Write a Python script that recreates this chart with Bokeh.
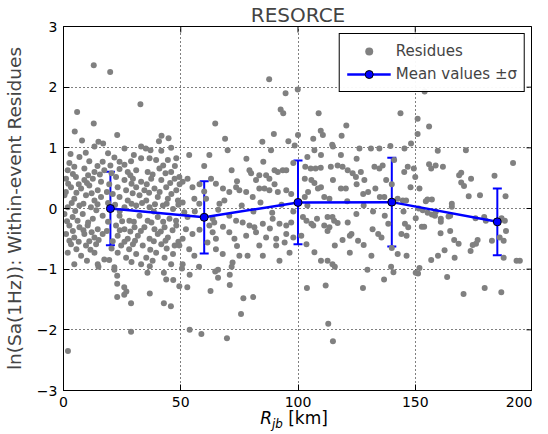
import math
from bokeh.plotting import figure
from bokeh.models import (ColumnDataSource, Whisker, TeeHead, Legend, LegendItem,
                          FixedTicker, Div)
from bokeh.layouts import column
from bokeh.embed import file_html
from bokeh.resources import INLINE

# ---- data -------------------------------------------------------------
res_dist = [
    12.9, 19.9, 32.8, 5.8, 12.9, 4.8, 7.9, 22.9, 14.9, 16.9, 41.8, 40.7, 44.8, 35.1,
    87.7, 94.7, 92.6, 93.7, 64.7, 68.9, 89.7, 84.8, 95.9, 98.6, 99.9, 100.0,
    108.8, 143.7, 120.6, 109.7, 110.6, 106.5, 118.6, 114.6, 148.2, 139.4,
    154.0, 151.0, 155.9, 151.0,
    22.9, 21.7, 22.9, 25.9, 26.8, 25.9, 22.9, 28.8, 36.8, 35.8, 42.8, 43.8, 46.8,
    42.8, 45.8, 28.8, 1.9, 49.4, 36.8, 14.9,
    53.8, 52.8, 62.7, 64.7, 65.9, 65.9, 70.9, 70.9, 76.7, 80.9, 75.7, 53.8, 58.8,
    69.7, 57.8, 71.7, 50.5,
    103.8, 111.8, 127.7, 136.7, 140.7, 129.6, 115.7, 139.7, 112.9, 114.9, 150.2,
    151.2, 163.6, 170.6, 179.6, 186.7,
    13.2, 26.0, 33.1, 37.1, 41.7, 45.9, 6.8, 4.6, 11.0, 16.7, 21.7, 23.9, 28.8, 33.1,
    36.7, 39.5, 44.5, 48.1, 1.8, 8.9, 13.2, 17.4, 23.9, 27.4, 31.0, 35.9, 40.9, 45.9,
    1.1, 5.3, 8.9, 12.5, 16.0, 22.4, 26.0, 29.6, 33.1, 37.4, 41.7, 47.4,
    3.2, 7.5, 11.0, 14.6, 23.1, 26.7, 31.0, 34.5, 38.8, 43.8, 48.1,
    0.4, 4.6, 9.6, 13.2, 16.0, 23.9, 27.4, 32.4, 35.3, 40.2, 44.5, 48.8,
    1.8, 6.8, 11.7, 26.0, 31.0, 36.7, 42.4, 46.7,
    0.4, 3.9, 8.2, 12.5, 16.7, 23.9, 28.1, 32.4, 35.9, 40.2, 45.2,
    2.5, 6.8, 10.3, 14.6, 22.4, 26.0, 30.3, 34.5, 38.8, 43.1, 48.1,
    1.1, 4.6, 8.9, 13.2, 16.7, 23.1, 27.4, 31.7, 36.7, 40.2, 44.5,
    3.2, 9.6, 13.9, 24.6, 29.6, 33.8, 41.7, 47.4,
    1.8, 7.5, 13.2, 17.4, 23.1, 26.7, 31.0, 35.3, 39.5, 43.1, 46.7,
    4.6, 14.6, 21.7, 33.1, 45.9,
    53.6, 62.2, 70.0, 88.5, 85.2, 71.7, 79.3, 80.0, 82.1, 83.5, 86.4, 87.8, 90.0,
    91.4, 93.5, 95.0, 49.4, 50.8, 52.9, 55.0, 62.9, 65.0, 68.0, 70.7, 73.6, 75.0,
    77.9, 80.7, 83.5, 85.7, 87.8, 91.4, 95.0, 97.1, 55.8, 57.9, 60.8, 66.5, 68.6,
    50.8, 51.5, 52.9, 63.6, 64.3, 62.2, 70.7, 73.6, 76.4, 79.3, 81.4, 85.0, 89.2,
    92.1, 95.0, 97.1, 52.2, 55.0, 50.8, 63.6, 65.0, 61.4, 70.7, 72.9, 77.9, 82.1,
    86.4, 90.7, 95.0, 83.5, 90.7, 94.3, 49.4, 53.6, 55.8, 65.0, 67.9, 75.0, 78.5,
    85.0, 92.1, 96.4, 50.8, 72.1,
    107.0, 109.8, 114.9, 118.3, 126.2, 131.1, 134.7, 145.4, 103.1, 105.4, 107.5,
    109.7, 114.0, 116.9, 119.0, 121.2, 123.3, 124.7, 126.8, 132.6, 134.7, 136.1,
    128.3, 114.9, 102.9, 105.7, 137.6, 145.3, 146.8, 149.4, 108.5, 109.8, 104.3,
    118.3, 120.4, 127.8, 129.9, 133.0, 134.9, 136.8, 142.5, 144.7, 146.1, 102.9,
    111.2, 113.4, 102.1, 103.6, 105.7, 106.5, 112.6, 114.7, 115.4, 116.9, 111.2,
    113.4, 112.6, 124.9, 121.2, 122.8, 122.1, 101.4, 103.6, 115.7, 125.6, 131.8,
    135.6, 134.2, 138.5, 145.6, 147.0, 144.1, 146.3, 142.5, 146.3, 122.1, 131.3,
    109.8, 112.6, 114.7, 108.1,
    159.6, 171.6, 191.7, 155.9, 156.8, 158.7, 161.8, 168.7, 169.6, 173.8, 183.8,
    151.8, 169.6, 170.8, 172.8, 177.6, 188.5, 155.2, 157.1, 154.5, 165.6, 165.6,
    151.5, 153.2, 155.3, 157.1, 158.4, 158.8, 160.9, 160.9, 164.2, 164.9, 152.8,
    153.8, 150.2, 164.9, 160.8, 175.7, 179.4, 180.1, 186.8, 188.2, 188.7, 186.0,
    187.7, 182.7, 176.6, 175.9, 174.5, 166.6, 168.5, 173.6, 162.5, 159.7, 156.8,
    166.8, 187.7, 193.2, 194.6, 151.8, 150.0,
]
res_value = [
    2.36, 2.25, 1.72, 1.59, 1.40, 1.27, 1.12, 1.21, 1.10, 1.07, 1.20, 1.11, 1.16, 0.99,
    2.13, 1.90, 1.63, 1.57, 1.40, 1.15, 1.23, 1.10, 1.11, 1.04, 1.96, 1.21,
    1.57, 1.57, 1.37, 1.28, 1.21, 1.15, 1.20, 1.05, 1.07, 1.03,
    1.93, 1.48, 1.35, 1.23,
    -1.11, -1.01, -1.24, -1.30, -1.37, -1.42, -1.46, -1.56, -1.40, -1.06, -1.06, -1.17, -1.18,
    -1.56, -1.61, -2.03, -2.35, -1.28, -0.95, -0.96,
    -1.09, -1.30, -1.36, -1.04, -1.01, -1.14, -1.09, -1.26, -1.48, -1.46, -1.74, -2.00, -2.07,
    -2.14, -0.96, -0.96, -0.99,
    -1.31, -1.27, -1.31, -1.17, -1.05, -1.01, -0.96, -0.96, -1.90, -2.19, -1.06,
    -1.07, -1.13, -1.41, -1.31, -1.38,
    1.02, 0.99, 1.02, 0.96, 0.95, 1.00, 0.85, 0.69, 0.78, 0.77, 0.84, 0.77, 0.78, 0.83,
    0.83, 0.80, 0.80, 0.83, 0.63, 0.66, 0.60, 0.63, 0.65, 0.60, 0.63, 0.60, 0.66, 0.60,
    0.49, 0.52, 0.47, 0.49, 0.44, 0.52, 0.47, 0.49, 0.44, 0.49, 0.47, 0.49,
    0.35, 0.33, 0.38, 0.30, 0.35, 0.30, 0.35, 0.30, 0.33, 0.35, 0.30,
    0.22, 0.16, 0.22, 0.13, 0.19, 0.19, 0.13, 0.22, 0.13, 0.19, 0.16, 0.13,
    0.02, 0.05, 0.02, 0.02, 0.05, 0.02, 0.05, -0.01,
    -0.09, -0.14, -0.09, -0.17, -0.12, -0.12, -0.20, -0.12, -0.20, -0.14, -0.17,
    -0.28, -0.31, -0.28, -0.34, -0.28, -0.34, -0.31, -0.31, -0.34, -0.31, -0.28,
    -0.42, -0.48, -0.42, -0.48, -0.42, -0.45, -0.50, -0.45, -0.50, -0.42, -0.48,
    -0.59, -0.61, -0.59, -0.61, -0.59, -0.61, -0.59, -0.61,
    -0.73, -0.78, -0.73, -0.84, -0.73, -0.81, -0.75, -0.81, -0.73, -0.81, -0.75,
    -0.92, -0.92, -0.97, -0.92, -0.92,
    0.88, 0.88, 0.96, 0.96, 0.77, 0.63, 0.63, 0.58, 0.47, 0.55, 0.55, 0.49, 0.63,
    0.60, 0.63, 0.63, 0.52, 0.44, 0.49, 0.35, 0.49, 0.41, 0.33, 0.27, 0.35, 0.30,
    0.27, 0.19, 0.33, 0.33, 0.30, 0.27, 0.30, 0.24, 0.16, 0.08, 0.16, 0.08, 0.13,
    0.10, -0.06, -0.14, -0.17, -0.23, -0.28, -0.12, -0.20, -0.23, -0.28, -0.31, -0.25, -0.17,
    -0.25, -0.28, -0.23, -0.34, -0.42, -0.50, -0.39, -0.50, -0.56, -0.39, -0.50, -0.45, -0.39,
    -0.48, -0.50, -0.42, -0.61, -0.61, -0.56, -0.61, -0.67, -0.78, -0.67, -0.75, -0.78, -0.78,
    -0.78, -0.86, -0.73, -0.92, -0.89,
    0.96, 0.88, 1.02, 0.88, 0.99, 0.99, 0.99, 0.99, 0.69, 0.66, 0.66,
    0.67, 0.69, 0.71, 0.69, 0.63, 0.58, 0.52, 0.60, 0.69, 0.66, 0.71,
    0.47, 0.47, 0.49, 0.47, 0.47, 0.60, 0.69, 0.66, 0.33, 0.35, 0.27,
    0.33, 0.33, 0.24, 0.27, 0.33, 0.19, 0.19, 0.16, 0.13, 0.13, 0.19,
    0.19, 0.16, -0.14, -0.20, -0.25, -0.28, -0.14, -0.14, -0.20, -0.24, -0.28,
    -0.31, -0.37, -0.09, -0.23, -0.42, -0.45, -0.45, -0.59, -0.61, -0.53, -0.34,
    -0.48, -0.42, -0.25, -0.25, -0.31, -0.42, -0.45, -0.75, -0.78, -0.73, -0.78,
    -0.86, -0.86, -0.92, -0.17,
    0.95, 0.96, 0.75, 0.73, 0.66, 0.71, 0.69, 0.55, 0.59, 0.49, 0.54,
    0.33, 0.43, 0.37, 0.20, 0.22, 0.20, 0.15, 0.15, 0.12, 0.08, 0.03,
    0.00, -0.03, -0.07, -0.10, -0.12, -0.05, -0.17, -0.22, -0.13, -0.12, -0.30,
    -0.30, -0.16, -0.37, -0.41, -0.16, -0.14, -0.20, -0.16, -0.20, -0.37, -0.48,
    -0.53, -0.53, -0.52, -0.58, -0.60, -0.52, -0.58, -0.70, -0.69, -0.78, -0.85,
    -0.81, -0.81, -0.86, -0.86, -0.98, 0.52,
]
# further residues in the dense parts of the cloud
res_dist_dense = [
    3.0, 9.5, 19.0, 30.0,
    2.5, 14.5, 20.0, 26.0, 42.5, 47.5,
    4.0, 10.5, 15.5, 20.5, 28.5, 38.0, 43.5,
    2.0, 6.5, 10.0, 19.5, 29.0, 35.5, 45.5, 49.5,
    1.0, 5.5, 12.0, 18.5, 21.0, 29.5, 36.5, 41.0, 46.0,
    3.5, 8.5, 14.5, 19.0, 22.0, 29.0, 33.5, 39.0, 44.0, 49.0,
    5.0, 14.0, 24.0, 38.5,
    1.5, 6.0, 10.5, 19.0, 25.0, 30.0, 37.5, 42.5, 48.0,
    4.0, 8.5, 12.0, 18.5, 24.0, 28.5, 33.0, 41.5, 46.5,
    2.5, 6.5, 11.0, 15.0, 21.0, 26.0, 30.5, 38.5, 43.5, 49.0,
    5.5, 11.5, 20.5, 28.0, 37.0, 44.0,
    10.0, 19.5, 29.0, 38.0,
    58.0, 74.0, 90.0, 60.0, 84.0, 93.0, 76.0, 56.0, 66.0, 81.0, 89.0, 98.0,
    58.0, 68.0, 88.0, 74.0, 98.0, 60.0, 98.0, 78.0,
    104.0, 121.0, 128.0, 140.0, 125.0, 148.0, 107.0, 132.0, 137.0, 145.0,
    119.0, 128.0, 140.0, 107.0, 104.0, 125.0, 141.0,
]
res_value_dense = [
    0.90, 0.92, 0.91, 0.88,
    0.75, 0.70, 0.71, 0.72, 0.71, 0.70,
    0.57, 0.55, 0.56, 0.58, 0.55, 0.56, 0.58,
    0.41, 0.40, 0.42, 0.40, 0.41, 0.40, 0.42, 0.40,
    0.27, 0.26, 0.25, 0.27, 0.24, 0.25, 0.26, 0.27, 0.24,
    0.09, 0.08, 0.07, 0.09, 0.06, 0.08, 0.09, 0.07, 0.08, 0.06,
    -0.04, -0.03, -0.04, -0.05,
    -0.21, -0.20, -0.23, -0.22, -0.21, -0.22, -0.23, -0.22, -0.20,
    -0.37, -0.36, -0.39, -0.37, -0.36, -0.38, -0.37, -0.38, -0.36,
    -0.53, -0.55, -0.54, -0.52, -0.54, -0.55, -0.53, -0.54, -0.53, -0.55,
    -0.67, -0.68, -0.66, -0.67, -0.68, -0.66,
    -0.86, -0.85, -0.88, -0.86,
    0.40, 0.45, 0.40, 0.28, 0.10, 0.06, 0.05, -0.05, -0.02, -0.05, -0.07, -0.05,
    -0.35, -0.30, -0.33, -0.62, -0.48, 0.70, 0.75, 0.82,
    0.05, 0.12, 0.05, 0.40, 0.40, 0.35, 0.42, -0.05, -0.12, -0.05,
    -0.52, -0.60, -0.65, -0.72, 0.85, 0.82, 0.80,
]
bin_dist = [20, 60, 100, 140, 185]
bin_mean = [0.0, -0.145, 0.10, 0.105, -0.22]
bin_sigma = [0.605, 0.595, 0.69, 0.73, 0.55]

x_ticks = [0, 50, 100, 150, 200]
y_ticks = [-3, -2, -1, 0, 1, 2, 3]
x_lim = (0, 200)
y_lim = (-3, 3)

FONT = "DejaVu Sans"

p = figure(width=532, height=410, x_range=x_lim, y_range=y_lim,
           output_backend="svg", toolbar_location=None,
           min_border_left=54, min_border_right=0, min_border_top=20,
           min_border_bottom=20)

p.title.text = "RESORCE"
p.title.align = "center"
p.title.text_font = FONT
p.title.text_font_size = "20px"
p.title.text_font_style = "normal"
p.title.standoff = 0
p.title.offset = 0

p.outline_line_color = "black"
p.outline_line_alpha = 1

for ax in (p.xaxis[0], p.yaxis[0]):
    ax.major_tick_in = 6
    ax.major_tick_out = 0
    ax.minor_tick_line_color = None
    ax.axis_line_color = "black"
    ax.major_tick_line_color = "black"
    ax.major_label_text_font = FONT
    ax.major_label_text_font_size = "14px"
    ax.major_label_text_color = "black"
    ax.major_label_standoff = 6

p.xaxis.ticker = FixedTicker(ticks=x_ticks)
p.yaxis.ticker = FixedTicker(ticks=y_ticks)
p.yaxis.axis_label = "ln(Sa(1Hz)): Within-event Residues"
p.yaxis.axis_label_text_font = FONT
p.yaxis.axis_label_text_font_size = "18.5px"
p.yaxis.axis_label_text_font_style = "normal"
p.yaxis.axis_label_standoff = 9

p.grid.grid_line_color = "black"
p.grid.grid_line_dash = "1 3"
p.grid.grid_line_width = 1
p.xgrid.ticker = FixedTicker(ticks=x_ticks)
p.ygrid.ticker = FixedTicker(ticks=y_ticks)

# inward ticks on the top and right frame edges (half of each dash is clipped)
p.scatter(x_ticks, [y_lim[1]] * len(x_ticks), marker="dash", angle=math.pi / 2,
          size=12, line_color="black", line_width=1)
p.scatter([x_lim[1]] * len(y_ticks), y_ticks, marker="dash", size=12,
          line_color="black", line_width=1)

sc = p.scatter(res_dist + res_dist_dense, res_value + res_value_dense, size=6,
               fill_color="#808080", line_color=None)

src = ColumnDataSource(dict(
    x=bin_dist, m=bin_mean,
    lo=[m - s for m, s in zip(bin_mean, bin_sigma)],
    hi=[m + s for m, s in zip(bin_mean, bin_sigma)]))
wh = Whisker(base="x", lower="lo", upper="hi", source=src, line_color="blue", line_width=2,
             upper_head=TeeHead(size=9, line_color="blue", line_width=2),
             lower_head=TeeHead(size=9, line_color="blue", line_width=2))
p.add_layout(wh)
ln = p.line("x", "m", source=src, line_color="blue", line_width=2.5)
mk = p.scatter("x", "m", source=src, size=8, fill_color="blue", line_color="black",
               line_width=1)

legend = Legend(items=[LegendItem(label="Residues", renderers=[sc]),
                       LegendItem(label="Mean values \u00b1\u03c3", renderers=[ln, mk])],
                location="top_right")
legend.border_line_color = "black"
legend.border_line_width = 1
legend.border_line_alpha = 1
legend.label_text_font = FONT
legend.label_text_font_size = "15px"
legend.glyph_width = 44
legend.glyph_height = 20
legend.padding = 7
legend.spacing = 3
legend.margin = 7
legend.label_standoff = 5
p.add_layout(legend)

xlabel = Div(
    text=("<span style='position:relative; top:7px'><i>R</i>"
          "<sub style='font-size:70%'><i>jb</i></sub> [km]</span>"),
    width=468, height=8, margin=(-3, 0, 0, 60),
    styles={"text-align": "center", "font-family": "DejaVu Sans", "font-size": "17px",
            "line-height": "8px", "color": "black", "overflow": "visible"})

layout = column(p, xlabel, spacing=0)
open("out.html", "w").write(file_html(layout, INLINE))
